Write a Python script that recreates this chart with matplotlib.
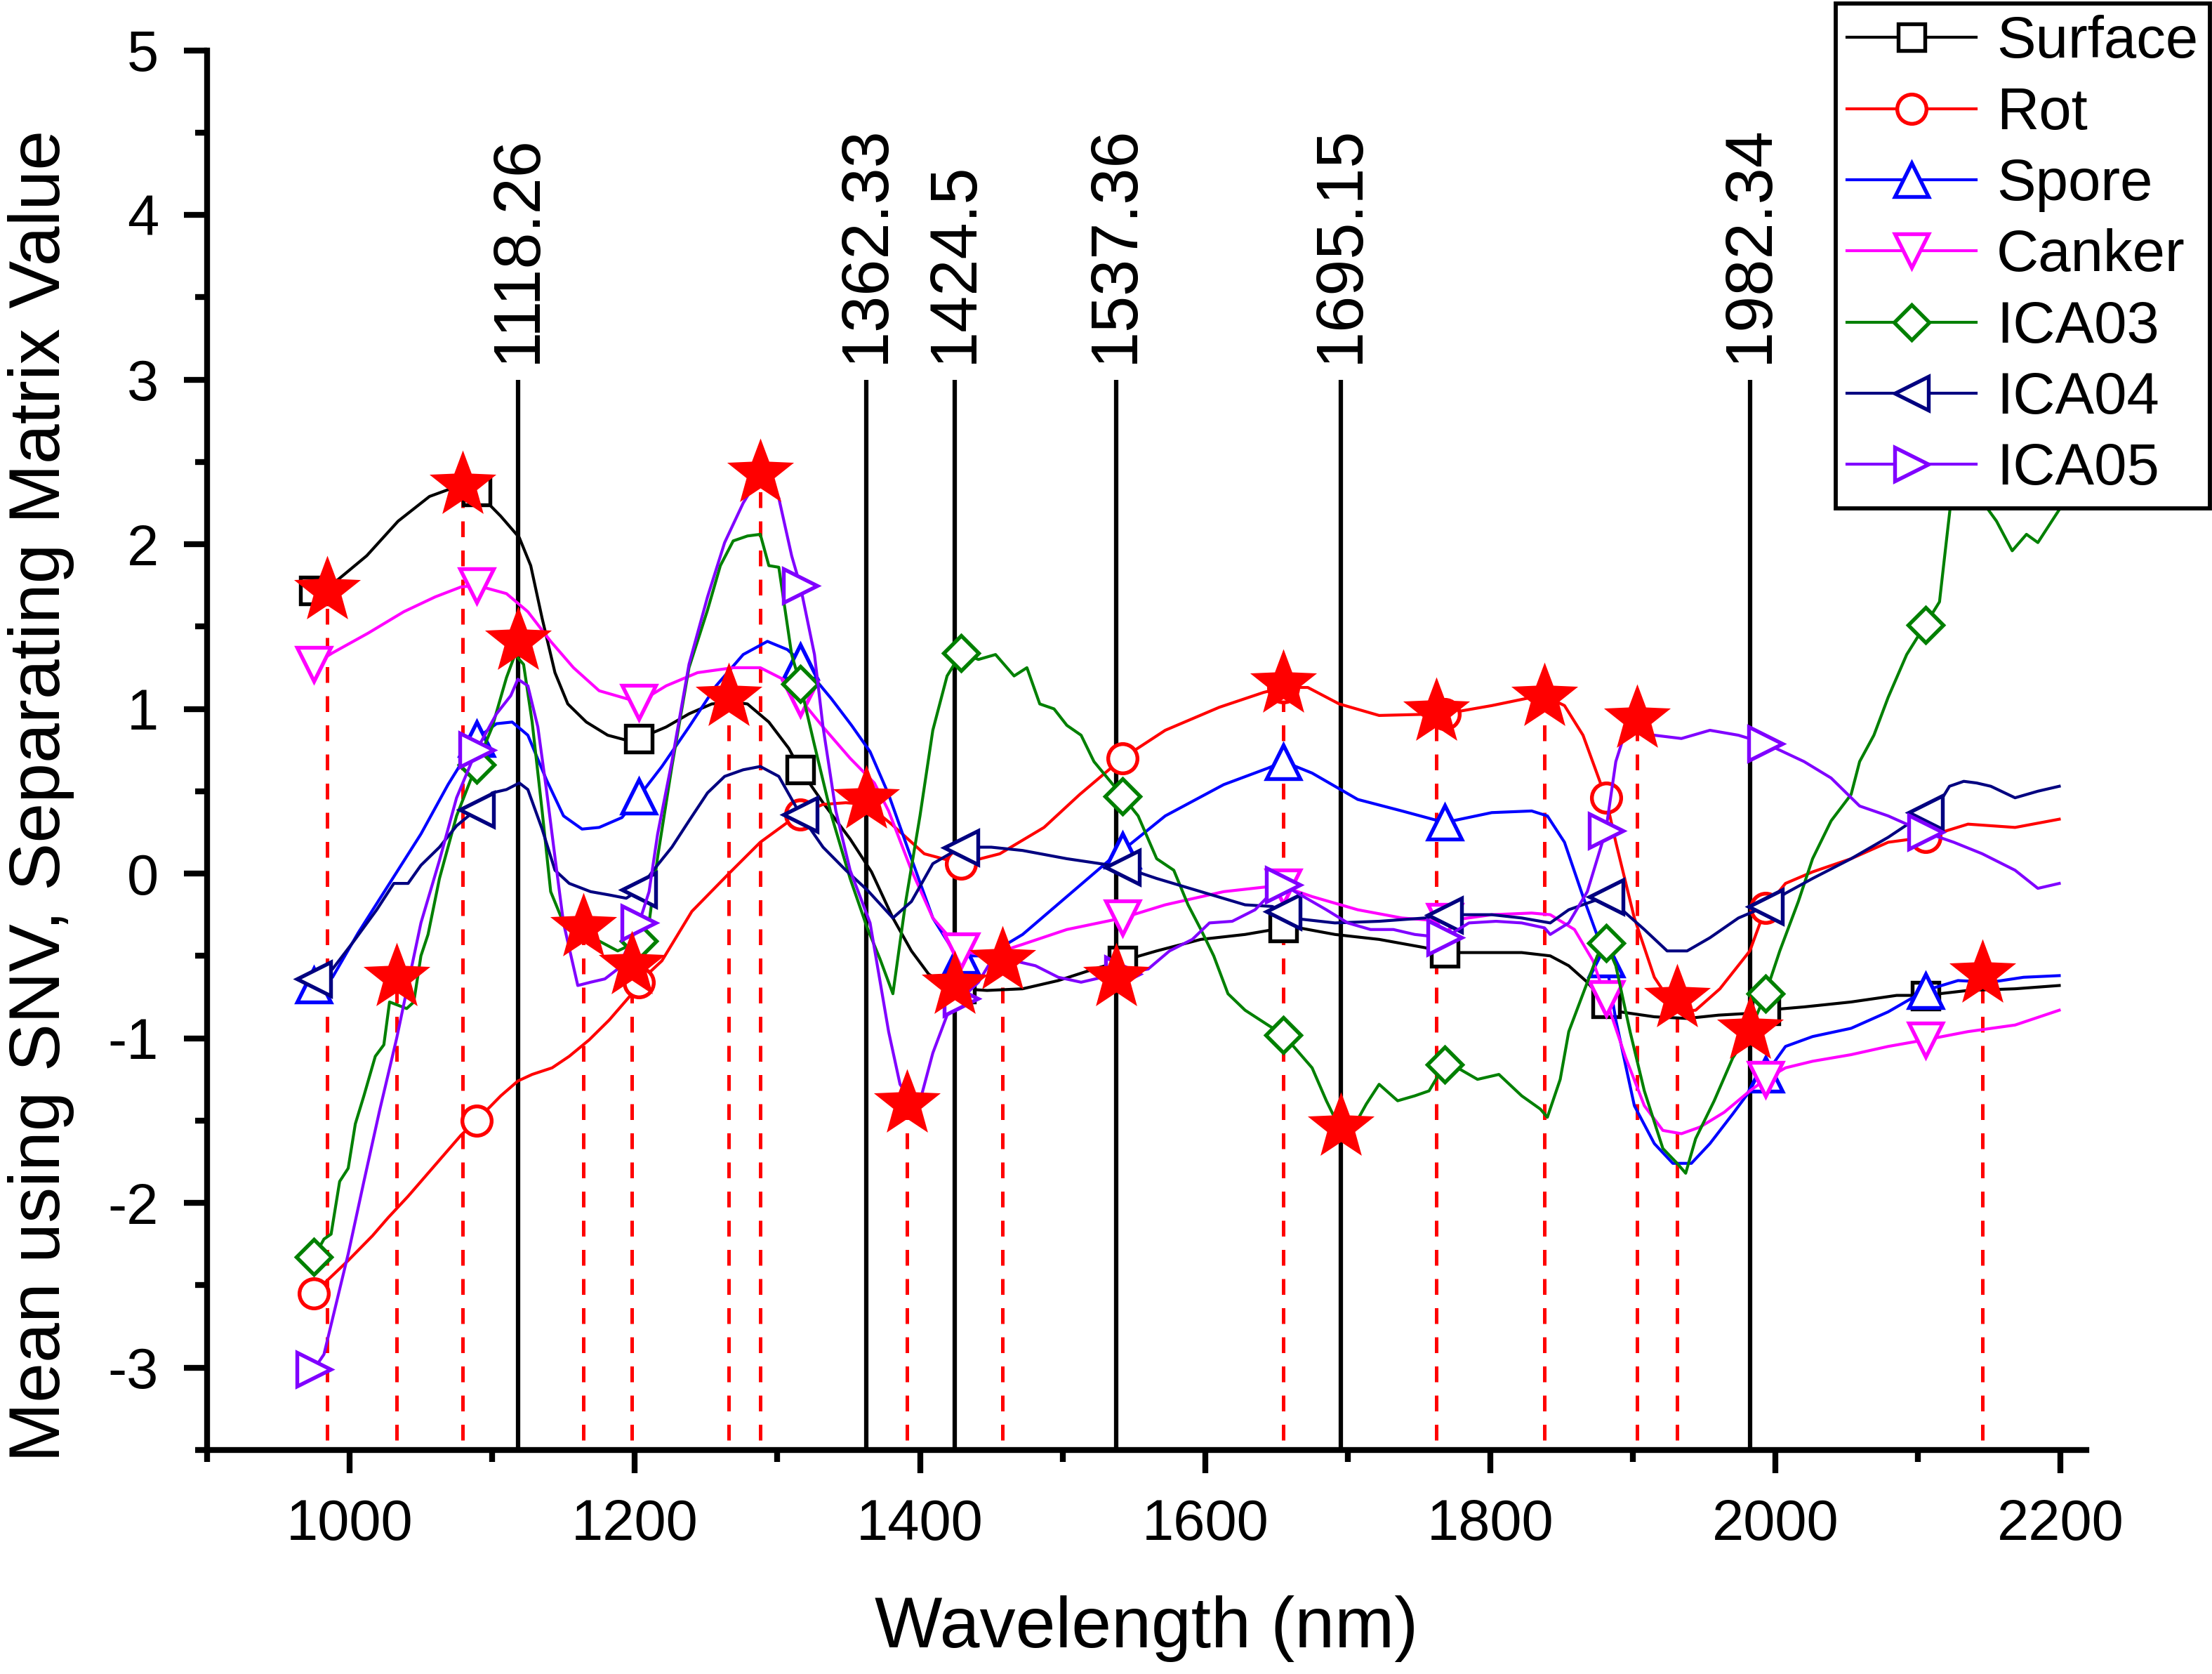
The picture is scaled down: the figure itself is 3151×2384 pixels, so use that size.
import matplotlib
matplotlib.use("Agg")
import matplotlib.pyplot as plt
from matplotlib.path import Path

plt.rcParams["font.family"] = ["Liberation Sans", "DejaVu Sans"]
plt.rcParams["axes.unicode_minus"] = False

# wavelengths (nm) where the hollow symbols sit on every curve
MARK_WL = [975, 1089, 1203, 1316, 1429, 1542, 1655, 1768, 1881, 1993, 2105]

SURFACE = [
    (975, 1.72), (987, 1.75), (1012, 1.93), (1034, 2.14), (1056, 2.29), (1075, 2.35),
    (1089, 2.32), (1106, 2.17), (1119, 2.04), (1127, 1.87), (1135, 1.55), (1144, 1.22),
    (1153, 1.03), (1166, 0.92), (1181, 0.84), (1194, 0.81), (1203, 0.82), (1222, 0.89),
    (1238, 0.97), (1254, 1.03), (1269, 1.04), (1279, 1.03), (1294, 0.92), (1308, 0.76),
    (1316, 0.63), (1332, 0.43), (1351, 0.21), (1366, 0.01), (1381, -0.27), (1394, -0.47),
    (1406, -0.61), (1418, -0.68), (1429, -0.70), (1447, -0.71), (1472, -0.70), (1497, -0.65),
    (1522, -0.58), (1542, -0.53), (1566, -0.47), (1597, -0.40), (1628, -0.37), (1655, -0.33),
    (1666, -0.33), (1691, -0.37), (1722, -0.40), (1754, -0.45), (1768, -0.48), (1790, -0.48),
    (1822, -0.48), (1842, -0.50), (1855, -0.56), (1868, -0.66), (1881, -0.79), (1891, -0.84),
    (1915, -0.87), (1938, -0.88), (1960, -0.86), (1980, -0.85), (1993, -0.83), (2020, -0.81),
    (2053, -0.78), (2085, -0.74), (2105, -0.74), (2135, -0.71), (2168, -0.70), (2199, -0.68),
]

ROT = [
    (975, -2.55), (982, -2.49), (999, -2.35), (1016, -2.20), (1027, -2.09), (1041, -1.96),
    (1061, -1.76), (1078, -1.59), (1089, -1.50), (1106, -1.35), (1118, -1.26), (1128, -1.22),
    (1142, -1.18), (1154, -1.11), (1168, -1.01), (1182, -0.89), (1196, -0.75), (1203, -0.66),
    (1219, -0.53), (1240, -0.23), (1266, 0.00), (1288, 0.19), (1307, 0.31), (1316, 0.36),
    (1332, 0.42), (1348, 0.43), (1363, 0.42), (1380, 0.30), (1403, 0.12), (1429, 0.06),
    (1456, 0.12), (1487, 0.28), (1512, 0.48), (1542, 0.70), (1572, 0.87), (1610, 1.01),
    (1641, 1.10), (1655, 1.13), (1672, 1.13), (1694, 1.03), (1722, 0.96), (1768, 0.97),
    (1801, 1.02), (1829, 1.07), (1840, 1.07), (1852, 1.02), (1865, 0.84), (1881, 0.46),
    (1888, 0.19), (1901, -0.27), (1915, -0.63), (1931, -0.84), (1944, -0.83), (1961, -0.70),
    (1982, -0.47), (1993, -0.21), (2007, -0.06), (2026, 0.01), (2053, 0.09), (2079, 0.19),
    (2105, 0.22), (2135, 0.30), (2168, 0.28), (2199, 0.33),
]

SPORE = [
    (975, -0.68), (988, -0.63), (1006, -0.36), (1028, -0.06), (1050, 0.24), (1069, 0.54),
    (1089, 0.82), (1103, 0.91), (1114, 0.92), (1125, 0.84), (1138, 0.57), (1150, 0.35),
    (1163, 0.27), (1175, 0.28), (1191, 0.34), (1203, 0.47), (1219, 0.65), (1238, 0.89),
    (1257, 1.14), (1276, 1.33), (1293, 1.41), (1307, 1.36), (1316, 1.29), (1338, 1.06),
    (1352, 0.90), (1365, 0.74), (1378, 0.48), (1394, 0.09), (1409, -0.27), (1422, -0.45),
    (1429, -0.50), (1447, -0.50), (1472, -0.37), (1503, -0.14), (1534, 0.09), (1542, 0.14),
    (1572, 0.35), (1613, 0.54), (1644, 0.64), (1655, 0.68), (1675, 0.61), (1707, 0.45),
    (1738, 0.38), (1768, 0.31), (1801, 0.37), (1829, 0.38), (1840, 0.35), (1852, 0.19),
    (1865, -0.14), (1881, -0.52), (1888, -0.89), (1901, -1.41), (1915, -1.64), (1928, -1.76),
    (1941, -1.76), (1954, -1.64), (1970, -1.46), (1982, -1.32), (1993, -1.22), (2007, -1.05),
    (2026, -0.99), (2053, -0.94), (2079, -0.84), (2105, -0.71), (2128, -0.65), (2151, -0.66),
    (2174, -0.63), (2199, -0.62),
]

CANKER = [
    (975, 1.27), (988, 1.34), (1013, 1.46), (1038, 1.59), (1060, 1.68), (1078, 1.74),
    (1089, 1.75), (1110, 1.70), (1125, 1.59), (1141, 1.41), (1157, 1.25), (1175, 1.11),
    (1203, 1.04), (1222, 1.14), (1244, 1.22), (1269, 1.25), (1288, 1.25), (1304, 1.18),
    (1316, 1.06), (1332, 0.89), (1351, 0.70), (1368, 0.55), (1378, 0.38), (1394, 0.02),
    (1409, -0.27), (1429, -0.47), (1447, -0.50), (1472, -0.43), (1503, -0.34), (1542, -0.27),
    (1572, -0.19), (1613, -0.11), (1644, -0.08), (1655, -0.08), (1675, -0.14), (1707, -0.22),
    (1738, -0.27), (1768, -0.29), (1801, -0.25), (1829, -0.24), (1842, -0.25), (1859, -0.34),
    (1872, -0.53), (1881, -0.76), (1895, -1.12), (1908, -1.41), (1921, -1.56), (1934, -1.58),
    (1947, -1.54), (1964, -1.45), (1982, -1.32), (1993, -1.25), (2007, -1.18), (2026, -1.14),
    (2053, -1.10), (2079, -1.05), (2105, -1.01), (2135, -0.96), (2168, -0.92), (2199, -0.83),
]

ICA03 = [
    (975, -2.33), (982, -2.22), (987, -2.19), (993, -1.87), (999, -1.79), (1004, -1.52),
    (1010, -1.35), (1018, -1.11), (1024, -1.04), (1028, -0.78), (1040, -0.82), (1045, -0.78),
    (1050, -0.50), (1055, -0.37), (1063, -0.03), (1075, 0.35), (1089, 0.66), (1100, 0.89),
    (1110, 1.19), (1116, 1.33), (1122, 1.27), (1128, 0.92), (1135, 0.38), (1141, -0.11),
    (1150, -0.30), (1163, -0.39), (1175, -0.41), (1188, -0.47), (1203, -0.41), (1210, -0.30),
    (1216, 0.10), (1226, 0.65), (1238, 1.25), (1251, 1.60), (1260, 1.87), (1269, 2.02),
    (1279, 2.05), (1288, 2.06), (1294, 1.87), (1301, 1.86), (1310, 1.33), (1316, 1.15),
    (1326, 0.78), (1338, 0.35), (1351, -0.03), (1363, -0.33), (1372, -0.52), (1381, -0.73),
    (1390, -0.17), (1400, 0.35), (1409, 0.87), (1419, 1.20), (1429, 1.34), (1441, 1.30),
    (1453, 1.33), (1466, 1.20), (1475, 1.25), (1484, 1.03), (1494, 1.00), (1503, 0.90),
    (1513, 0.84), (1522, 0.68), (1542, 0.47), (1553, 0.35), (1566, 0.09), (1578, 0.02),
    (1588, -0.19), (1597, -0.34), (1606, -0.50), (1616, -0.73), (1628, -0.83), (1644, -0.92),
    (1655, -0.98), (1666, -1.09), (1675, -1.18), (1685, -1.38), (1694, -1.54), (1704, -1.54),
    (1713, -1.40), (1722, -1.28), (1735, -1.38), (1747, -1.35), (1757, -1.32), (1768, -1.16),
    (1779, -1.19), (1791, -1.25), (1806, -1.22), (1822, -1.35), (1835, -1.43), (1840, -1.48),
    (1849, -1.25), (1855, -0.96), (1865, -0.73), (1875, -0.50), (1881, -0.42), (1888, -0.56),
    (1898, -0.96), (1908, -1.32), (1921, -1.67), (1931, -1.76), (1937, -1.82), (1944, -1.61),
    (1957, -1.38), (1970, -1.12), (1982, -0.96), (1993, -0.73), (2003, -0.47), (2016, -0.17),
    (2026, 0.09), (2039, 0.32), (2053, 0.48), (2059, 0.68), (2069, 0.84), (2079, 1.07),
    (2092, 1.33), (2105, 1.51), (2115, 1.65), (2118, 1.88), (2123, 2.26), (2130, 2.55),
    (2140, 2.45), (2145, 2.26), (2155, 2.14), (2166, 1.96), (2176, 2.06), (2184, 2.01),
    (2199, 2.21),
]

ICA04 = [
    (975, -0.64), (988, -0.58), (1003, -0.41), (1019, -0.22), (1031, -0.06), (1041, -0.06),
    (1050, 0.05), (1063, 0.16), (1075, 0.29), (1089, 0.39), (1100, 0.49), (1110, 0.51),
    (1119, 0.55), (1125, 0.51), (1135, 0.27), (1144, 0.02), (1154, -0.06), (1169, -0.11),
    (1182, -0.13), (1194, -0.15), (1203, -0.10), (1213, 0.02), (1226, 0.16), (1238, 0.32),
    (1251, 0.49), (1263, 0.59), (1276, 0.63), (1288, 0.65), (1301, 0.59), (1316, 0.36),
    (1332, 0.16), (1348, 0.02), (1363, -0.10), (1381, -0.27), (1394, -0.17), (1409, 0.06),
    (1429, 0.16), (1450, 0.16), (1472, 0.14), (1503, 0.09), (1542, 0.04), (1566, -0.03),
    (1597, -0.11), (1628, -0.19), (1647, -0.20), (1655, -0.23), (1660, -0.27), (1691, -0.30),
    (1722, -0.29), (1754, -0.27), (1768, -0.25), (1801, -0.25), (1822, -0.27), (1842, -0.30),
    (1855, -0.22), (1881, -0.14), (1891, -0.21), (1908, -0.34), (1924, -0.47), (1938, -0.47),
    (1954, -0.39), (1974, -0.27), (1993, -0.20), (2007, -0.12), (2026, -0.03), (2053, 0.09),
    (2079, 0.22), (2105, 0.37), (2115, 0.43), (2122, 0.53), (2132, 0.56), (2141, 0.55),
    (2151, 0.53), (2168, 0.46), (2184, 0.50), (2199, 0.53),
]

ICA05 = [
    (975, -3.01), (982, -2.92), (987, -2.74), (999, -2.31), (1010, -1.87), (1021, -1.44),
    (1033, -1.00), (1041, -0.67), (1050, -0.30), (1063, 0.08), (1075, 0.46), (1089, 0.75),
    (1103, 0.97), (1113, 1.08), (1118, 1.18), (1125, 1.14), (1132, 0.89), (1138, 0.51),
    (1144, 0.10), (1150, -0.30), (1160, -0.68), (1169, -0.66), (1179, -0.64), (1188, -0.58),
    (1197, -0.41), (1203, -0.30), (1210, -0.11), (1216, 0.24), (1226, 0.68), (1238, 1.27),
    (1251, 1.68), (1263, 2.01), (1276, 2.25), (1288, 2.42), (1301, 2.28), (1310, 1.93),
    (1316, 1.75), (1326, 1.33), (1332, 0.89), (1341, 0.38), (1351, 0.02), (1365, -0.30),
    (1378, -0.96), (1386, -1.28), (1394, -1.38), (1401, -1.35), (1409, -1.09), (1419, -0.86),
    (1429, -0.76), (1441, -0.66), (1450, -0.53), (1466, -0.53), (1481, -0.56), (1497, -0.63),
    (1513, -0.66), (1528, -0.63), (1542, -0.61), (1560, -0.58), (1575, -0.47), (1591, -0.40),
    (1603, -0.30), (1619, -0.29), (1635, -0.22), (1644, -0.14), (1655, -0.07), (1669, -0.14),
    (1685, -0.22), (1700, -0.30), (1716, -0.34), (1732, -0.34), (1747, -0.37), (1768, -0.39),
    (1785, -0.30), (1804, -0.29), (1822, -0.30), (1838, -0.33), (1842, -0.37), (1855, -0.30),
    (1868, -0.11), (1881, 0.26), (1888, 0.68), (1895, 0.87), (1915, 0.84), (1934, 0.82),
    (1954, 0.87), (1974, 0.84), (1993, 0.79), (2020, 0.68), (2039, 0.58), (2059, 0.41),
    (2079, 0.35), (2105, 0.25), (2125, 0.19), (2145, 0.12), (2168, 0.02), (2184, -0.09),
    (2199, -0.06),
]

# selected wavelengths (solid black lines) and the star value on each
SELECTED_WL = [1118.26, 1362.33, 1424.5, 1537.36, 1695.15, 1982.34]
SELECTED_Y = [1.41, 0.45, -0.68, -0.63, -1.54, -0.95]

# other candidate wavelengths (red dashed lines) and their star values
STAR_WL = [984, 1033, 1079, 1164, 1198, 1266, 1288, 1391, 1458, 1655, 1762, 1838, 1903, 1931, 2145]
STAR_Y = [1.72, -0.63, 2.36, -0.33, -0.56, 1.07, 2.43, -1.40, -0.53, 1.15, 0.98, 1.07, 0.94, -0.76, -0.61]

SERIES = [
    ("Surface", SURFACE, "black", "s", 9.0),
    ("Rot", ROT, "red", "o", 10.0),
    ("Spore", SPORE, "blue", "^", 11.5),
    ("Canker", CANKER, "magenta", "v", 11.5),
    ("ICA03", ICA03, "green", "D", 8.5),
    ("ICA04", ICA04, "navy", "<", 11.5),
    ("ICA05", ICA05, "#8000FF", ">", 11.5),
]

fig = plt.figure(figsize=(3151 / 300, 2384 / 300), dpi=300)
ax = fig.add_axes([0.0936, 0.1339, 0.8496, 0.8361])

for name, points, color, marker, size in SERIES:
    wl = [p[0] for p in points]
    val = [p[1] for p in points]
    marks = [wl.index(w) for w in MARK_WL]
    ax.plot(wl, val, color=color, lw=1.0, marker=marker, ms=size, mew=1.3,
            mfc="white", mec=color, markevery=marks, label=name, zorder=3)

ax.vlines(STAR_WL, -3.44, STAR_Y, colors="red", linestyles=(0, (4.5, 3.8)), lw=1.2, zorder=2)
ax.vlines(SELECTED_WL, -3.5, 3.0, colors="black", lw=1.5, zorder=2)
for w in SELECTED_WL:
    ax.text(w, 3.1, f"{w:g}", rotation=90, ha="center", va="bottom", fontsize=22.5)

# slightly fatter five-point star than the built-in '*'
star = Path.unit_regular_star(5, 0.42)
ax.plot(STAR_WL + SELECTED_WL, STAR_Y + SELECTED_Y, linestyle="none", marker=star,
        ms=24, color="red", mec="none", zorder=4)

ax.set_xlim(900, 2218)
ax.set_ylim(-3.5, 5)
ax.set_xticks(range(1000, 2201, 200))
ax.set_xticks(range(900, 2201, 100), minor=True)
ax.set_yticks(range(-3, 6))
ax.set_yticks([v / 2 for v in range(-7, 10)], minor=True)

for side in ("top", "right"):
    ax.spines[side].set_visible(False)
for side in ("left", "bottom"):
    ax.spines[side].set_linewidth(2.0)
ax.tick_params(which="major", direction="out", length=8, width=2, labelsize=19.5, pad=8.5)
ax.tick_params(which="minor", direction="out", length=4, width=2)

ax.set_xlabel("Wavelength (nm)", fontsize=24.5)
ax.set_ylabel("Mean using SNV, Separating Matrix Value", fontsize=24.5)
ax.xaxis.set_label_coords(0.5, -0.104)
ax.yaxis.set_label_coords(-0.0705, 0.467)

leg = ax.legend(loc="upper right", bbox_to_anchor=(0.999, 0.998), bbox_transform=fig.transFigure,
                borderaxespad=0, fontsize=20, handlelength=2.2, handletextpad=0.35,
                labelspacing=0.28, borderpad=0.2, fancybox=False, framealpha=1,
                edgecolor="black")
leg.get_frame().set_linewidth(1.4)
leg.set_zorder(6)

fig.savefig("out.png", dpi=300)
